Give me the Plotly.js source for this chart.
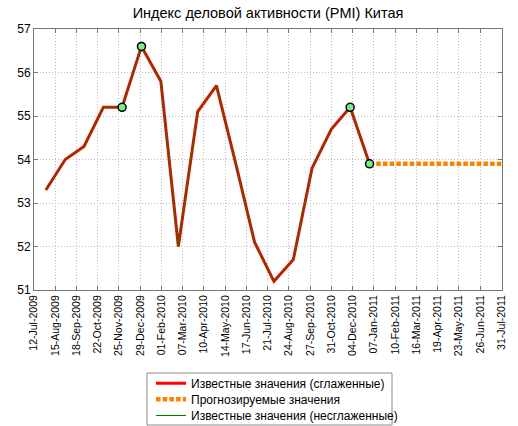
<!DOCTYPE html>
<html>
<head>
<meta charset="utf-8">
<script src="https://cdn.plot.ly/plotly-3.0.1.min.js"></script>
<style>html,body{margin:0;padding:0;background:#fff;}#chart{width:518px;height:426px;}</style>
</head>
<body>
<div id="chart"></div>
<script>
// ---- data ----
var knownDates = ['2009-07-31','2009-08-31','2009-09-30','2009-10-31','2009-11-30','2009-12-31',
                  '2010-01-31','2010-02-28','2010-03-31','2010-04-30','2010-05-31','2010-06-30',
                  '2010-07-31','2010-08-31','2010-09-30','2010-10-31','2010-11-30','2010-12-31'];
var pmiSmoothed = [53.3,54.0,54.3,55.2,55.2,56.6,55.8,52.0,55.1,55.7,53.9,52.1,51.2,51.7,53.8,54.7,55.2,53.9];
var pmiRaw      = [53.3,54.0,54.3,55.2,55.2,56.6,55.8,52.0,55.1,55.7,53.9,52.1,51.2,51.7,53.8,54.7,55.2,53.9];
var forecastDates = ['2010-12-31','2011-01-31','2011-02-28','2011-03-31','2011-04-30','2011-05-31','2011-06-30','2011-07-31'];
var forecastValues = [53.9,53.9,53.9,53.9,53.9,53.9,53.9,53.9];
var markerDates = ['2009-11-30','2009-12-31','2010-11-30','2010-12-31'];
var markerValues = [55.2,56.6,55.2,53.9];
var tickLabels = ['12-Jul-2009','15-Aug-2009','18-Sep-2009','22-Oct-2009','25-Nov-2009','29-Dec-2009',
                  '01-Feb-2010','07-Mar-2010','10-Apr-2010','14-May-2010','17-Jun-2010','21-Jul-2010',
                  '24-Aug-2010','27-Sep-2010','31-Oct-2010','04-Dec-2010','07-Jan-2011','10-Feb-2011',
                  '16-Mar-2011','19-Apr-2011','23-May-2011','26-Jun-2011','31-Jul-2011'];
var yTicks = [51,52,53,54,55,56,57];
var seriesNames = ['Известные значения (сглаженные)','Прогнозируемые значения','Известные значения (несглаженные)'];
var chartTitle = 'Индекс деловой активности (PMI) Китая';

// ---- helpers ----
var MON = {Jan:'01',Feb:'02',Mar:'03',Apr:'04',May:'05',Jun:'06',Jul:'07',Aug:'08',Sep:'09',Oct:'10',Nov:'11',Dec:'12'};
function toIso(s){var p=s.split('-');return p[2]+'-'+MON[p[1]]+'-'+p[0];}
var tickVals = tickLabels.map(toIso);

var FONT = 'Liberation Sans, Arial, sans-serif';
var plotL = 34, plotR = 502, plotT = 29, plotB = 290, W = 518, H = 426;
var pw = plotR - plotL, ph = plotB - plotT;
function px(x){return (x - plotL)/pw;}
function py(y){return (plotB - y)/ph;}

var traces = [
  {x: knownDates, y: pmiSmoothed, type:'scatter', mode:'lines', name: seriesNames[0],
   line:{color:'#ff0000', width:3}, legend:'legend'},
  {x: forecastDates, y: forecastValues, type:'scatter', mode:'lines', name: seriesNames[1],
   line:{color:'#ff8000', width:4.5, dash:'4.5px,2.2px'}, legend:'legend2'},
  {x: knownDates, y: pmiRaw, type:'scatter', mode:'lines', name: seriesNames[2],
   line:{color:'#008000', width:1}, legend:'legend3'},
  {x: markerDates, y: markerValues, type:'scatter', mode:'markers', showlegend:false, hoverinfo:'skip',
   marker:{color:'#77ee88', size:8, line:{color:'#000', width:1.5}}}
];

function leg(yc){
  return {x: 151/W, xref:'container', xanchor:'left', y: 1 - yc/H, yref:'container', yanchor:'middle', bgcolor:'rgba(0,0,0,0)',
          borderwidth:0, font:{family:FONT, size:12, color:'#000'}, itemwidth:30};
}

var layout = {
  width: W, height: H,
  margin: {l: plotL, r: W - plotR, t: plotT, b: H - plotB, pad: 0, autoexpand:false},
  paper_bgcolor:'#fff', plot_bgcolor:'#fff',
  font: {family: FONT, color:'#000'},
  title: {text: chartTitle, font:{family:FONT, size:14.5, color:'#000'}, x:0.5, xref:'paper', xanchor:'center', y: 1 - 13/H, yanchor:'middle'},
  xaxis: {type:'date', range:[tickVals[0], tickVals[tickVals.length-1]], tickmode:'array', tickvals: tickVals, ticktext: tickLabels,
          tickangle:-90, tickfont:{family:FONT, size:10.5, color:'#000'}, ticks:'inside', ticklen:4, tickcolor:'#777',
          showline:true, linecolor:'#777', linewidth:1, mirror:'ticks', showgrid:true, gridcolor:'#bdbdbd', griddash:'1px,2px',
          zeroline:false, fixedrange:true, automargin:false},
  yaxis: {range:[51,57], tickmode:'array', tickvals: yTicks, ticktext: yTicks.map(String),
          tickfont:{family:FONT, size:12, color:'#000'}, ticks:'inside', ticklen:4, tickcolor:'#777',
          showline:true, linecolor:'#777', linewidth:1, mirror:'ticks', showgrid:true, gridcolor:'#bdbdbd', griddash:'1px,2px',
          zeroline:false, fixedrange:true, automargin:false},
  showlegend: true,
  legend: leg(383.3),
  legend2: leg(399.3),
  legend3: leg(415.5),
  shapes: [{type:'rect', xref:'paper', yref:'paper', x0: px(147), x1: px(392), y0: py(425), y1: py(373),
            line:{color:'#8c8c8c', width:1}, fillcolor:'rgba(0,0,0,0)', layer:'below'}]
};

Plotly.newPlot('chart', traces, layout, {displayModeBar:false, staticPlot:true});
</script>
</body>
</html>
